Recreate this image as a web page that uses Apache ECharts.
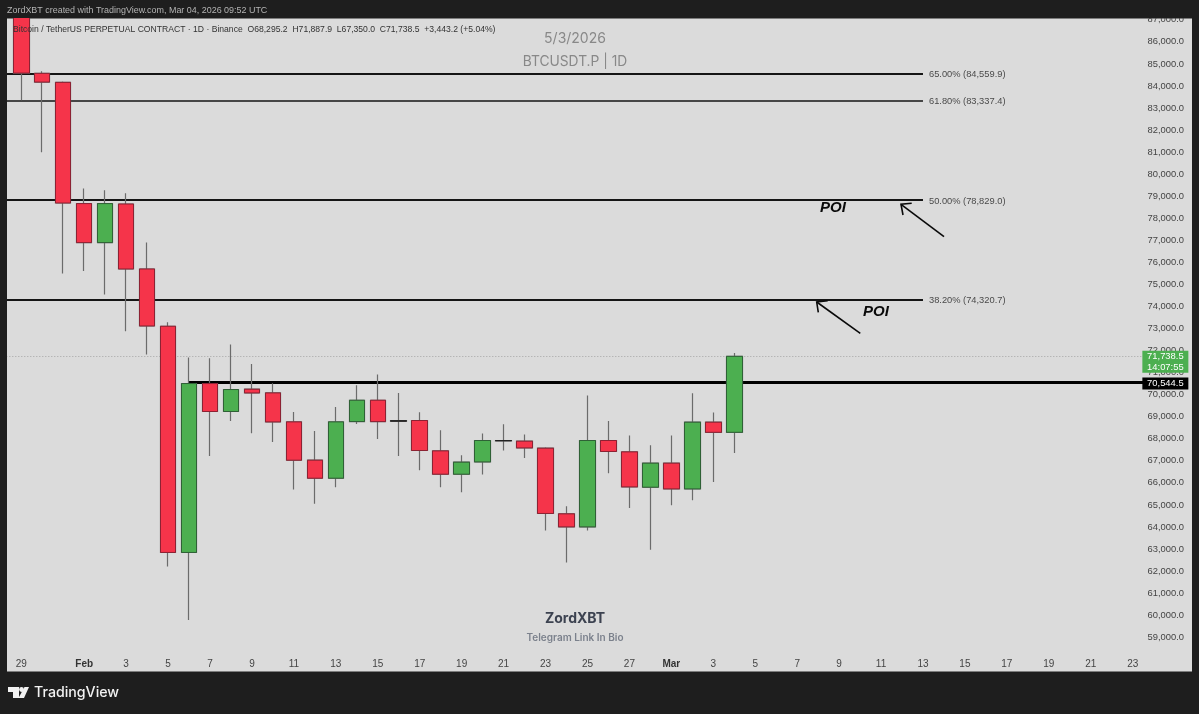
<!DOCTYPE html>
<html><head><meta charset="utf-8">
<style>html,body{margin:0;padding:0;background:#1e1e1e}#c{width:1199px;height:714px}</style>
<script src="https://cdn.jsdelivr.net/npm/echarts@6/dist/echarts.min.js"></script>
</head><body><div id="c"></div>
<script>
const categories = ['Jan 28','Jan 29','Jan 30','Jan 31','Feb 1','Feb 2','Feb 3','Feb 4','Feb 5','Feb 6','Feb 7','Feb 8','Feb 9','Feb 10','Feb 11','Feb 12','Feb 13','Feb 14','Feb 15','Feb 16','Feb 17','Feb 18','Feb 19','Feb 20','Feb 21','Feb 22','Feb 23','Feb 24','Feb 25','Feb 26','Feb 27','Feb 28','Mar 1','Mar 2','Mar 3','Mar 4','Mar 5','Mar 6','Mar 7','Mar 8','Mar 9','Mar 10','Mar 11','Mar 12','Mar 13','Mar 14','Mar 15','Mar 16','Mar 17','Mar 18','Mar 19','Mar 20','Mar 21','Mar 22','Mar 23','Mar 24','Mar 25','Mar 26'];
const candleDays = ['Jan 29','Jan 30','Jan 31','Feb 1','Feb 2','Feb 3','Feb 4','Feb 5','Feb 6','Feb 7','Feb 8','Feb 9','Feb 10','Feb 11','Feb 12','Feb 13','Feb 14','Feb 15','Feb 16','Feb 17','Feb 18','Feb 19','Feb 20','Feb 21','Feb 22','Feb 23','Feb 24','Feb 25','Feb 26','Feb 27','Feb 28','Mar 1','Mar 2','Mar 3','Mar 4'];
const opens  = [87800,84572,84164,78666,76898,78647,75701,73104,62845,70506,69237,70248,70080,68766,67029,66213,68783,69749,68820,68829,67451,66395,66952,67922,67891,67573,64595,64006,67922,67406,65805,66893,65728,68752,68295];
const closes = [84586,84178,78693,76898,78666,75701,73117,62845,70506,69237,70234,70080,68766,67029,66213,68766,69749,68780,68797,67469,66395,66939,67922,67908,67587,64613,64006,67922,67424,65819,66893,65728,68752,68295,71738.5];
const lows   = [83348,80991,75492,75610,74541,72877,71821,62211,59777,67224,68811,68253,67859,65701,65049,65805,68675,67995,67224,66576,65805,65579,66381,67469,67134,63843,62392,63843,66440,64867,62963,64989,65216,66046,67350];
const highs  = [88500,84663,84209,79346,79268,79132,76898,73285,71685,71653,72274,71395,70520,69219,68358,69445,70429,70914,70080,69205,68389,67256,68240,68661,68194,67618,64944,69962,68811,68149,67709,68149,70066,69191,71887.9];
const dayTickLabels = ['Jan 29','Feb 1','Feb 3','Feb 5','Feb 7','Feb 9','Feb 11','Feb 13','Feb 15','Feb 17','Feb 19','Feb 21','Feb 23','Feb 25','Feb 27','Mar 1','Mar 3','Mar 5','Mar 7','Mar 9','Mar 11','Mar 13','Mar 15','Mar 17','Mar 19','Mar 21','Mar 23'];
const priceTicks = [59000,60000,61000,62000,63000,64000,65000,66000,67000,68000,69000,70000,71000,72000,73000,74000,75000,76000,77000,78000,79000,80000,81000,82000,83000,84000,85000,86000,87000];
const fibLevels = [84559.9,83337.4,78829.0,74320.7];
const fibLabels = ['65.00% (84,559.9)','61.80% (83,337.4)','50.00% (78,829.0)','38.20% (74,320.7)'];
const lastPrice = 71738.5, resistance = 70544.5;

const FONT='Liberation Sans';
const RED='#f5344a',REDB='#8c2233',GREEN='#4caf50',GREENB='#2f6136',WICK='#6b6b6b';
const wickData = candleDays.map((d,i)=>[d,opens[i],closes[i],lows[i],highs[i]]);
const bodyData = candleDays.map((d,i)=>{
  const v=[d,opens[i],closes[i],Math.min(opens[i],closes[i]),Math.max(opens[i],closes[i])];
  return Math.abs(opens[i]-closes[i])<60 ? {value:v,itemStyle:{color:'#222',color0:'#222',borderColor:'#222',borderColor0:'#222'}} : {value:v};
});
const fibLines = fibLevels.map((p,i)=>[
  {xAxis:'Jan 28',yAxis:p,lineStyle:{color:'#151515',width:i===1?1.6:2,type:'solid'},
   label:{show:true,position:'end',distance:6,offset:[0,1],formatter:fibLabels[i],color:'#4a4a4a',fontSize:9.3,fontFamily:FONT}},
  {xAxis:'Mar 13',yAxis:p}]);
const panelLines = [
  [{xAxis:'Jan 28',yAxis:lastPrice,lineStyle:{color:'#a5a5a5',width:1,type:[1,2]},label:{show:false}},{xAxis:'Mar 24',yAxis:lastPrice}],
  [{xAxis:'Feb 6',yAxis:resistance,lineStyle:{color:'#000',width:3,type:'solid'},label:{show:false}},{xAxis:'Mar 24',yAxis:resistance}]
];
const txt=(x,y,text,fill,size,weight,align,extra)=>({type:'text',z:110,silent:true,x,y,style:Object.assign({text,fill,fontSize:size,fontWeight:weight||400,fontFamily:FONT,align:align||'left',verticalAlign:'middle'},extra||{})});
const rect=(x,y,w,h,fill)=>({type:'rect',z:100,silent:true,shape:{x,y,width:w,height:h},style:{fill}});
const poly=(pts)=>({type:'polyline',z:105,silent:true,shape:{points:pts},style:{stroke:'#0a0a0a',lineWidth:1.6,fill:null}});
const chart=echarts.init(document.getElementById('c'),null,{renderer:'canvas'});
chart.setOption({
  animation:false,backgroundColor:'#1e1e1e',
  grid:{left:0.3,right:3.4,top:18.4,bottom:42.4,show:true,backgroundColor:'#dbdbdb',borderWidth:0},
  xAxis:{type:'category',data:categories,boundaryGap:false,axisLine:{show:false},axisTick:{show:false},splitLine:{show:false},
    axisLabel:{inside:true,margin:2,color:'#444',fontSize:10,fontFamily:FONT,hideOverlap:false,
      interval:(i,v)=>dayTickLabels.includes(v),
      formatter:v=>{const [m,d]=v.split(' ');return d==='1'?'{b|'+m+'}':d;},
      rich:{b:{fontWeight:700,color:'#333',fontSize:10,fontFamily:FONT}}}},
  yAxis:{type:'value',position:'right',min:57442,max:87065,axisLine:{show:false},axisTick:{show:false},splitLine:{show:false},
    axisLabel:{inside:true,margin:11.6,color:'#444',fontSize:9.4,fontFamily:FONT,customValues:priceTicks,
      formatter:v=>v.toLocaleString('en-US',{minimumFractionDigits:1,maximumFractionDigits:1})}},
  series:[
    {type:'candlestick',name:'wicks',z:3,barWidth:16,encode:{x:0,y:[1,2,3,4]},data:wickData,silent:true,
     itemStyle:{color:RED,color0:RED,borderColor:WICK,borderColor0:WICK,borderWidth:1.2,borderColorDoji:WICK},
     markLine:{silent:true,z:1,symbol:'none',animation:false,data:fibLines.concat(panelLines)}},
    {type:'candlestick',name:'BTCUSDT.P',z:4,barWidth:16,encode:{x:0,y:[1,2,3,4]},data:bodyData,silent:true,
     itemStyle:{color:GREEN,color0:RED,borderColor:GREENB,borderColor0:REDB,borderWidth:1},
     markPoint:{silent:true,z:6,animation:false,data:[
       {coord:['Mar 24',lastPrice],symbol:'rect',symbolSize:[46,22],symbolOffset:[11.7,5.4],itemStyle:{color:'#4caf50'},
        label:{show:true,position:'inside',formatter:'71,738.5\n14:07:55',color:'#fff',fontSize:9.4,lineHeight:10.5,fontFamily:FONT}},
       {coord:['Mar 24',resistance],symbol:'rect',symbolSize:[46,12],symbolOffset:[11.7,0.7],itemStyle:{color:'#000'},
        label:{show:true,position:'inside',formatter:'70,544.5',color:'#fff',fontSize:9.4,fontFamily:FONT}}
     ]}}
  ],
  graphic:{elements:[
    rect(0,0,1199,18,'#1e1e1e'),rect(0,0,7,714,'#1e1e1e'),rect(1192,0,7,714,'#1e1e1e'),rect(0,672,1199,42,'#1e1e1e'),
    txt(7,11,'ZordXBT created with TradingView.com, Mar 04, 2026 09:52 UTC','#b4b4b4',8.95),
    txt(13,30,'Bitcoin / TetherUS PERPETUAL CONTRACT · 1D · Binance  O68,295.2  H71,887.9  L67,350.0  C71,738.5  +3,443.2 (+5.04%)','#333',8.6),
    txt(575,39,'5/3/2026','#888',14,400,'center',{fontFamily:'Inter'}),
    txt(575,62,'BTCUSDT.P | 1D','#888',13.8,400,'center',{fontFamily:'Inter'}),
    txt(575,619,'ZordXBT','#3c4250',14,700,'center',{fontFamily:'Inter'}),
    txt(575,638,'Telegram Link In Bio','#7b818c',10,600,'center',{fontFamily:'Inter'}),
    txt(820,208,'POI','#0a0a0a',15,700,'left',{fontStyle:'italic'}),
    txt(863,311.5,'POI','#0a0a0a',15,700,'left',{fontStyle:'italic'}),
    poly([[944,236.7],[901,204.3]]),poly([[911.7,203.3],[901,204.3],[903,215]]),
    poly([[860.3,333.3],[816.7,302]]),poly([[827.7,300.7],[816.7,302],[818.3,312.3]]),
    txt(34,693,'TradingView','#f2f2f2',14.2,500,'left',{fontFamily:'Inter'}),
    {type:'polygon',z:110,silent:true,shape:{points:[[8,687],[19,687],[19,698],[13,698],[13,692],[8,692]]},style:{fill:'#f2f2f2'}},
    {type:'circle',z:110,silent:true,shape:{cx:21.5,cy:689.5,r:2.4},style:{fill:'#f2f2f2'}},
    {type:'polygon',z:110,silent:true,shape:{points:[[24.5,687],[29,687],[24,698],[18.5,698]]},style:{fill:'#f2f2f2'}}
  ]}
});
</script></body></html>
